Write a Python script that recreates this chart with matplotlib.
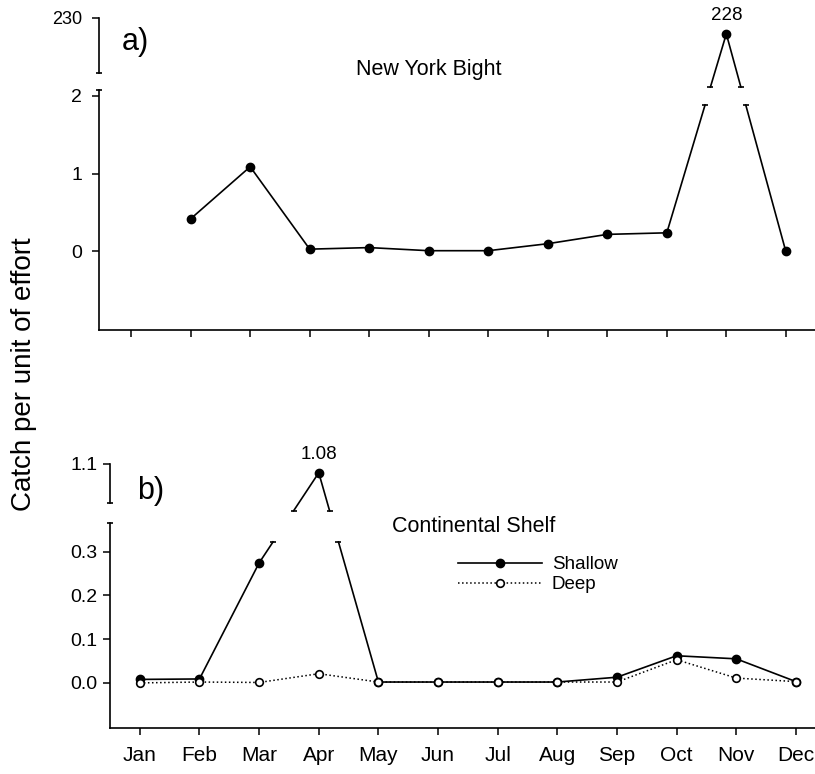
import numpy as np
import matplotlib
matplotlib.use("Agg")
import matplotlib.pyplot as plt
from matplotlib.ticker import FixedLocator, FixedFormatter

plt.rcParams['font.family'] = ['Liberation Sans', 'DejaVu Sans']

#-----------------------
#      Data
#-----------------------
months = ['Jan', 'Feb', 'Mar', 'Apr', 'May', 'Jun', 'Jul', 'Aug', 'Sep', 'Oct', 'Nov', 'Dec']
month_pos = np.arange(1, 13)

# a) New York Bight (no January sample)
nyb = [np.nan, 0.42, 1.09, 0.03, 0.05, 0.01, 0.01, 0.10, 0.22, 0.24, 228.0, 0.0]

# b) Continental Shelf
shallow = [0.008, 0.009, 0.274, 1.08, 0.002, 0.002, 0.002, 0.002, 0.013, 0.062, 0.055, 0.003]
deep = [0.000, 0.002, 0.001, 0.021, 0.002, 0.002, 0.002, 0.002, 0.002, 0.053, 0.011, 0.003]

#-----------------------
#   Usefull functions
#-----------------------

def break_scale(lo_top, hi_bot, gap, k):
	"""piecewise linear y mapping: [.., lo_top] -> itself, gap, then [hi_bot, ..] scaled by k"""
	def fwd(y):
		y = np.asarray(y, float)
		return np.where(y <= lo_top, y,
			np.where(y >= hi_bot, lo_top + gap + (y - hi_bot)*k,
				lo_top + gap*(y - lo_top)/(hi_bot - lo_top)))
	def inv(v):
		v = np.asarray(v, float)
		return np.where(v <= lo_top, v,
			np.where(v >= lo_top + gap, hi_bot + (v - lo_top - gap)/k,
				lo_top + (v - lo_top)*(hi_bot - lo_top)/gap))
	return fwd, inv


def cut_line(x, y, fwd, inv, c0, c1):
	"""insert a gap in the line where it crosses the band c0..c1 (scaled units)"""
	x = np.asarray(x, float)
	y = np.asarray(y, float)
	v = fwd(y)
	xs, ys, caps = [], [], []
	for i in range(len(x)):
		if i > 0 and np.isfinite(v[i-1]) and np.isfinite(v[i]):
			va, vb = v[i-1], v[i]
			if min(va, vb) < c0 and max(va, vb) > c1:
				ts = sorted([(c0 - va)/(vb - va), (c1 - va)/(vb - va)])
				pts = []
				for t in ts:
					px = x[i-1] + t*(x[i] - x[i-1])
					py = float(inv(va + t*(vb - va)))
					pts.append((px, py))
				xs += [pts[0][0], np.nan, pts[1][0]]
				ys += [pts[0][1], np.nan, pts[1][1]]
				caps += pts
		xs.append(x[i])
		ys.append(y[i])
	return np.array(xs), np.array(ys), caps


def broken_axis(ax, ylo, lo_top, hi_bot, yhi, gap, k):
	fwd, inv = break_scale(lo_top, hi_bot, gap, k)
	ax.set_yscale('function', functions=(fwd, inv))
	ax.set_ylim(ylo, yhi)
	ax.spines['left'].set_visible(False)
	ax.spines['top'].set_visible(False)
	ax.spines['right'].set_visible(False)
	tr = ax.get_yaxis_transform()
	ax.plot([0, 0], [ylo, lo_top], color='k', lw=1.2, transform=tr, clip_on=False)
	ax.plot([0, 0], [hi_bot, yhi], color='k', lw=1.2, transform=tr, clip_on=False)
	ax.plot([0, 0], [lo_top, hi_bot], 'k_', ms=5, mew=1.2, transform=tr, clip_on=False)
	return fwd, inv


def style_axis(ax, yticks, ylabels, ypad):
	ax.yaxis.set_major_locator(FixedLocator(yticks))
	ax.yaxis.set_major_formatter(FixedFormatter(ylabels))
	ax.yaxis.set_minor_locator(FixedLocator([]))
	ax.set_xticks(month_pos)
	ax.spines['bottom'].set_linewidth(1.2)
	ax.tick_params(axis='y', direction='out', length=5, width=1.1, labelsize=14, pad=ypad)
	ax.tick_params(axis='x', direction='out', length=5, width=1.1, labelsize=15, pad=8)


if __name__ == '__main__':
	fig = plt.figure(figsize=(8.15, 7.74), dpi=100)

	#----------------------------------------------------------------------------------
	# a) New York Bight
	ax1 = fig.add_axes([99/815, 1 - 330/774, 1 - 99/815, 312/774])
	fwd, inv = broken_axis(ax1, -1.01, 2.08, 223.1, 230, 0.218, 0.1022)
	xs, ys, caps = cut_line(month_pos, nyb, fwd, inv, 1.885, 2.115)
	ax1.plot(xs, ys, '-', color='k', lw=1.2)
	ax1.plot(month_pos, nyb, 'o', color='k', ms=6)
	ax1.plot([c[0] for c in caps], [c[1] for c in caps], 'k_', ms=5, mew=1.2)
	ax1.set_xlim(0.46, 12.49)
	style_axis(ax1, [0, 1, 2, 230], ['0', '1', '2', '230'], 7)
	ax1.set_xticklabels([])
	ax1.yaxis.get_major_ticks()[3].label1.set_fontsize(13)
	ax1.annotate('228', (11, 228), xytext=(0, 7), textcoords='offset points',
				 ha='center', va='bottom', fontsize=13.5)
	ax1.text(429/815, 1 - 69/774, 'New York Bight', transform=fig.transFigure,
			 ha='center', va='center', fontsize=15.5)
	fig.text(122/815, 1 - 42/774, 'a)', fontsize=22, va='center', ha='left')

	#----------------------------------------------------------------------------------
	# b) Continental Shelf
	ax2 = fig.add_axes([110/815, 1 - 728/774, 1 - 110/815, 264/774])
	fwd, inv = broken_axis(ax2, -0.103, 0.365, 1.011, 1.1, 0.046, 1.0)
	xs, ys, caps = cut_line(month_pos, shallow, fwd, inv, 0.322, 0.393)
	ax2.plot(xs, ys, '-', color='k', lw=1.2)
	ax2.plot(month_pos, shallow, 'o', color='k', ms=6)
	ax2.plot([c[0] for c in caps], [c[1] for c in caps], 'k_', ms=5, mew=1.2)
	ax2.plot(month_pos, deep, ':', color='k', lw=1.1)
	ax2.plot(month_pos, deep, 'o', color='k', mfc='white', mew=1.2, ms=5.5)
	ax2.set_xlim(0.5, 12.32)
	style_axis(ax2, [0, 0.1, 0.2, 0.3, 1.1], ['0.0', '0.1', '0.2', '0.3', '1.1'], 4)
	ax2.set_xticklabels(months)
	ax2.annotate('1.08', (4, 1.08), xytext=(0, 7), textcoords='offset points',
				 ha='center', va='bottom', fontsize=13.5)
	ax2.text(474/815, 1 - 527/774, 'Continental Shelf', transform=fig.transFigure,
			 ha='center', va='center', fontsize=15.5)
	fig.text(137/815, 1 - 491/774, 'b)', fontsize=22, va='center', ha='left')

	h1, = ax2.plot([], [], '-o', color='k', lw=1.2, ms=6)
	h2, = ax2.plot([], [], ':o', color='k', lw=1.1, mfc='white', mew=1.2, ms=5.5)
	ax2.legend([h1, h2], ['Shallow', 'Deep'], loc='upper left', frameon=False,
			   bbox_to_anchor=(458/815, 1 - 556/774), bbox_transform=fig.transFigure,
			   borderpad=0, borderaxespad=0, numpoints=1, handlelength=4.5,
			   handletextpad=0.5, labelspacing=0.15, fontsize=13.5)

	fig.text(24/815, 1 - 374/774, 'Catch per unit of effort', rotation=90,
			 ha='center', va='center', fontsize=20)

	plt.savefig('out.png', format='png', dpi=100)
